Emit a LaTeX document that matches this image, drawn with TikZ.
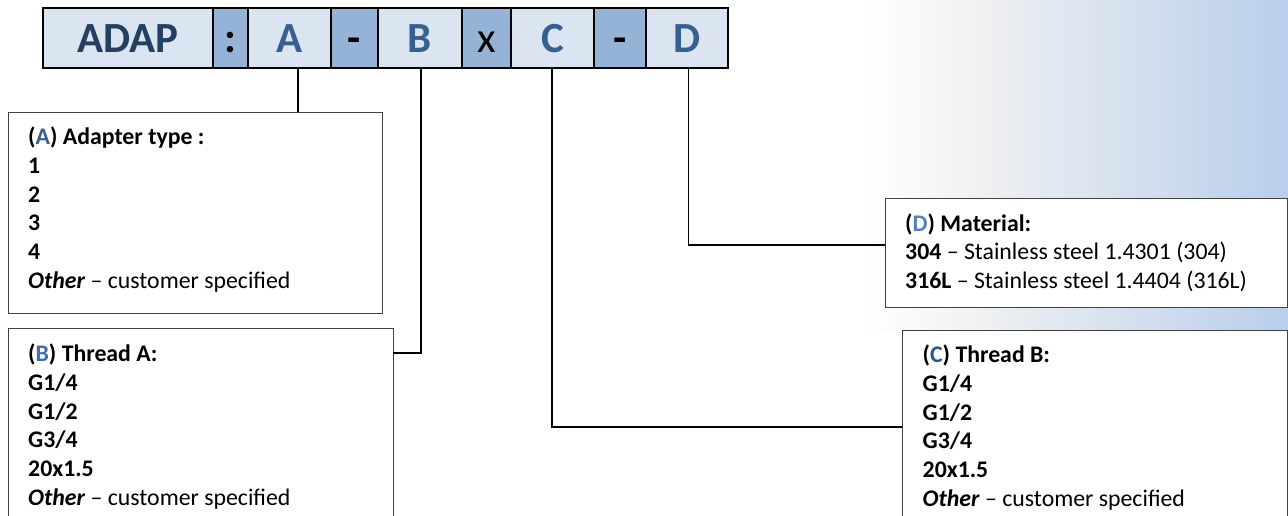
\documentclass[tikz,border=0pt]{standalone}
\usepackage{fontspec}
\setmainfont{Carlito}
\definecolor{cellLight}{HTML}{DBE5F1}
\definecolor{cellDark}{HTML}{95B3D7}
\definecolor{adapBlue}{HTML}{243F60}
\definecolor{letterBlue}{HTML}{366092}
\definecolor{labA}{HTML}{365F91}
\definecolor{labB}{HTML}{3D6DB0}
\definecolor{labC}{HTML}{2E5590}
\definecolor{labD}{HTML}{4F81BD}
\definecolor{boxGray}{HTML}{404040}
\definecolor{gradGray}{HTML}{F3F3F3}
\definecolor{gradBlue}{HTML}{B8CEEA}
\begin{document}
\begin{tikzpicture}[x=1pt,y=-1pt,
  cell/.style={draw=black, line width=2pt, inner sep=0pt, anchor=north west,
    minimum height=60pt, text height=44.2pt, text depth=15.8pt,
    font=\fontsize{43}{43}\selectfont\bfseries},
  light/.style={cell, fill=cellLight, text=letterBlue},
  dark/.style={cell, fill=cellDark, text=black},
  infobox/.style={draw=boxGray, line width=1.3pt, fill=white, inner sep=0pt, anchor=north west},
  info/.style={anchor=base west, inner sep=0pt, font=\fontsize{23.8}{28.8}\selectfont},
  link/.style={draw=black, line width=1.5pt}
]
\useasboundingbox (0,0) rectangle (1288,516);
% background gradient
\shade[left color=white, right color=gradGray] (860,0) rectangle (960,330);
\shade[left color=gradGray, right color=gradBlue] (959.5,0) rectangle (1288,330);

% connector points
\coordinate (pA) at (298,67.5);
\coordinate (pB) at (421,67.5);
\coordinate (pC) at (552,67.5);
\coordinate (pD) at (688.5,67.5);
\coordinate (jB) at (393,353);
\coordinate (jC) at (902,427);
\coordinate (jD) at (885,245);

% info boxes
\node[infobox, minimum width=374pt, minimum height=201pt] (boxA) at (8,112) {};
\node[infobox, minimum width=385pt, minimum height=220pt] (boxB) at (8,328) {};
\node[infobox, minimum width=402pt, minimum height=109pt] (boxD) at (885,198) {};
\node[infobox, minimum width=385pt, minimum height=220pt] (boxC) at (902,330) {};

% connectors
\draw[link] (pA) -- (pA |- boxA.north);
\draw[link] (pB) |- (jB);
\draw[link] (pC) |- (jC);
\draw[link] (pD) |- (jD);

% header cells
\node[light, minimum width=170pt, text=adapBlue] (cADAP) at (42,7.5) {ADAP};
\node[dark, minimum width=35pt] (cColon) at (212,7.5) {:};
\node[light, minimum width=83pt] (cA) at (247,7.5) {A};
\node[dark, minimum width=47pt] (cDashA) at (330,7.5) {-};
\node[light, minimum width=84pt] (cB) at (377,7.5) {B};
\node[dark, minimum width=49pt, font=\fontsize{43}{43}\selectfont\mdseries] (cX) at (461,7.5) {x};
\node[light, minimum width=83pt] (cC) at (510,7.5) {C};
\node[dark, minimum width=52pt] (cDashB) at (593,7.5) {-};
\node[light, minimum width=82pt] (cD) at (645,7.5) {D};

% texts
\node[info] (tA) at (28,144.5) {\parbox[t]{340pt}{\textbf{(\textcolor{labA}{A}) Adapter type :}\\
\textbf{1}\\ \textbf{2}\\ \textbf{3}\\ \textbf{4}\\
\textbf{\itshape Other} – customer specified}};
\node[info] (tB) at (28,361.5) {\parbox[t]{340pt}{\textbf{(\textcolor{labB}{B}) Thread A:}\\
\textbf{G1/4}\\ \textbf{G1/2}\\ \textbf{G3/4}\\ \textbf{20x1.5}\\
\textbf{\itshape Other} – customer specified}};
\node[info] (tD) at (905,231) {\parbox[t]{370pt}{\textbf{(\textcolor{labD}{D}) Material:}\\
\textbf{304} – Stainless steel 1.4301 (304)\\
\textbf{316L} – Stainless steel 1.4404 (316L)}};
\node[info] (tC) at (922.5,362.5) {\parbox[t]{350pt}{\textbf{(\textcolor{labC}{C}) Thread B:}\\
\textbf{G1/4}\\ \textbf{G1/2}\\ \textbf{G3/4}\\ \textbf{20x1.5}\\
\textbf{\itshape Other} – customer specified}};
\end{tikzpicture}
\end{document}
